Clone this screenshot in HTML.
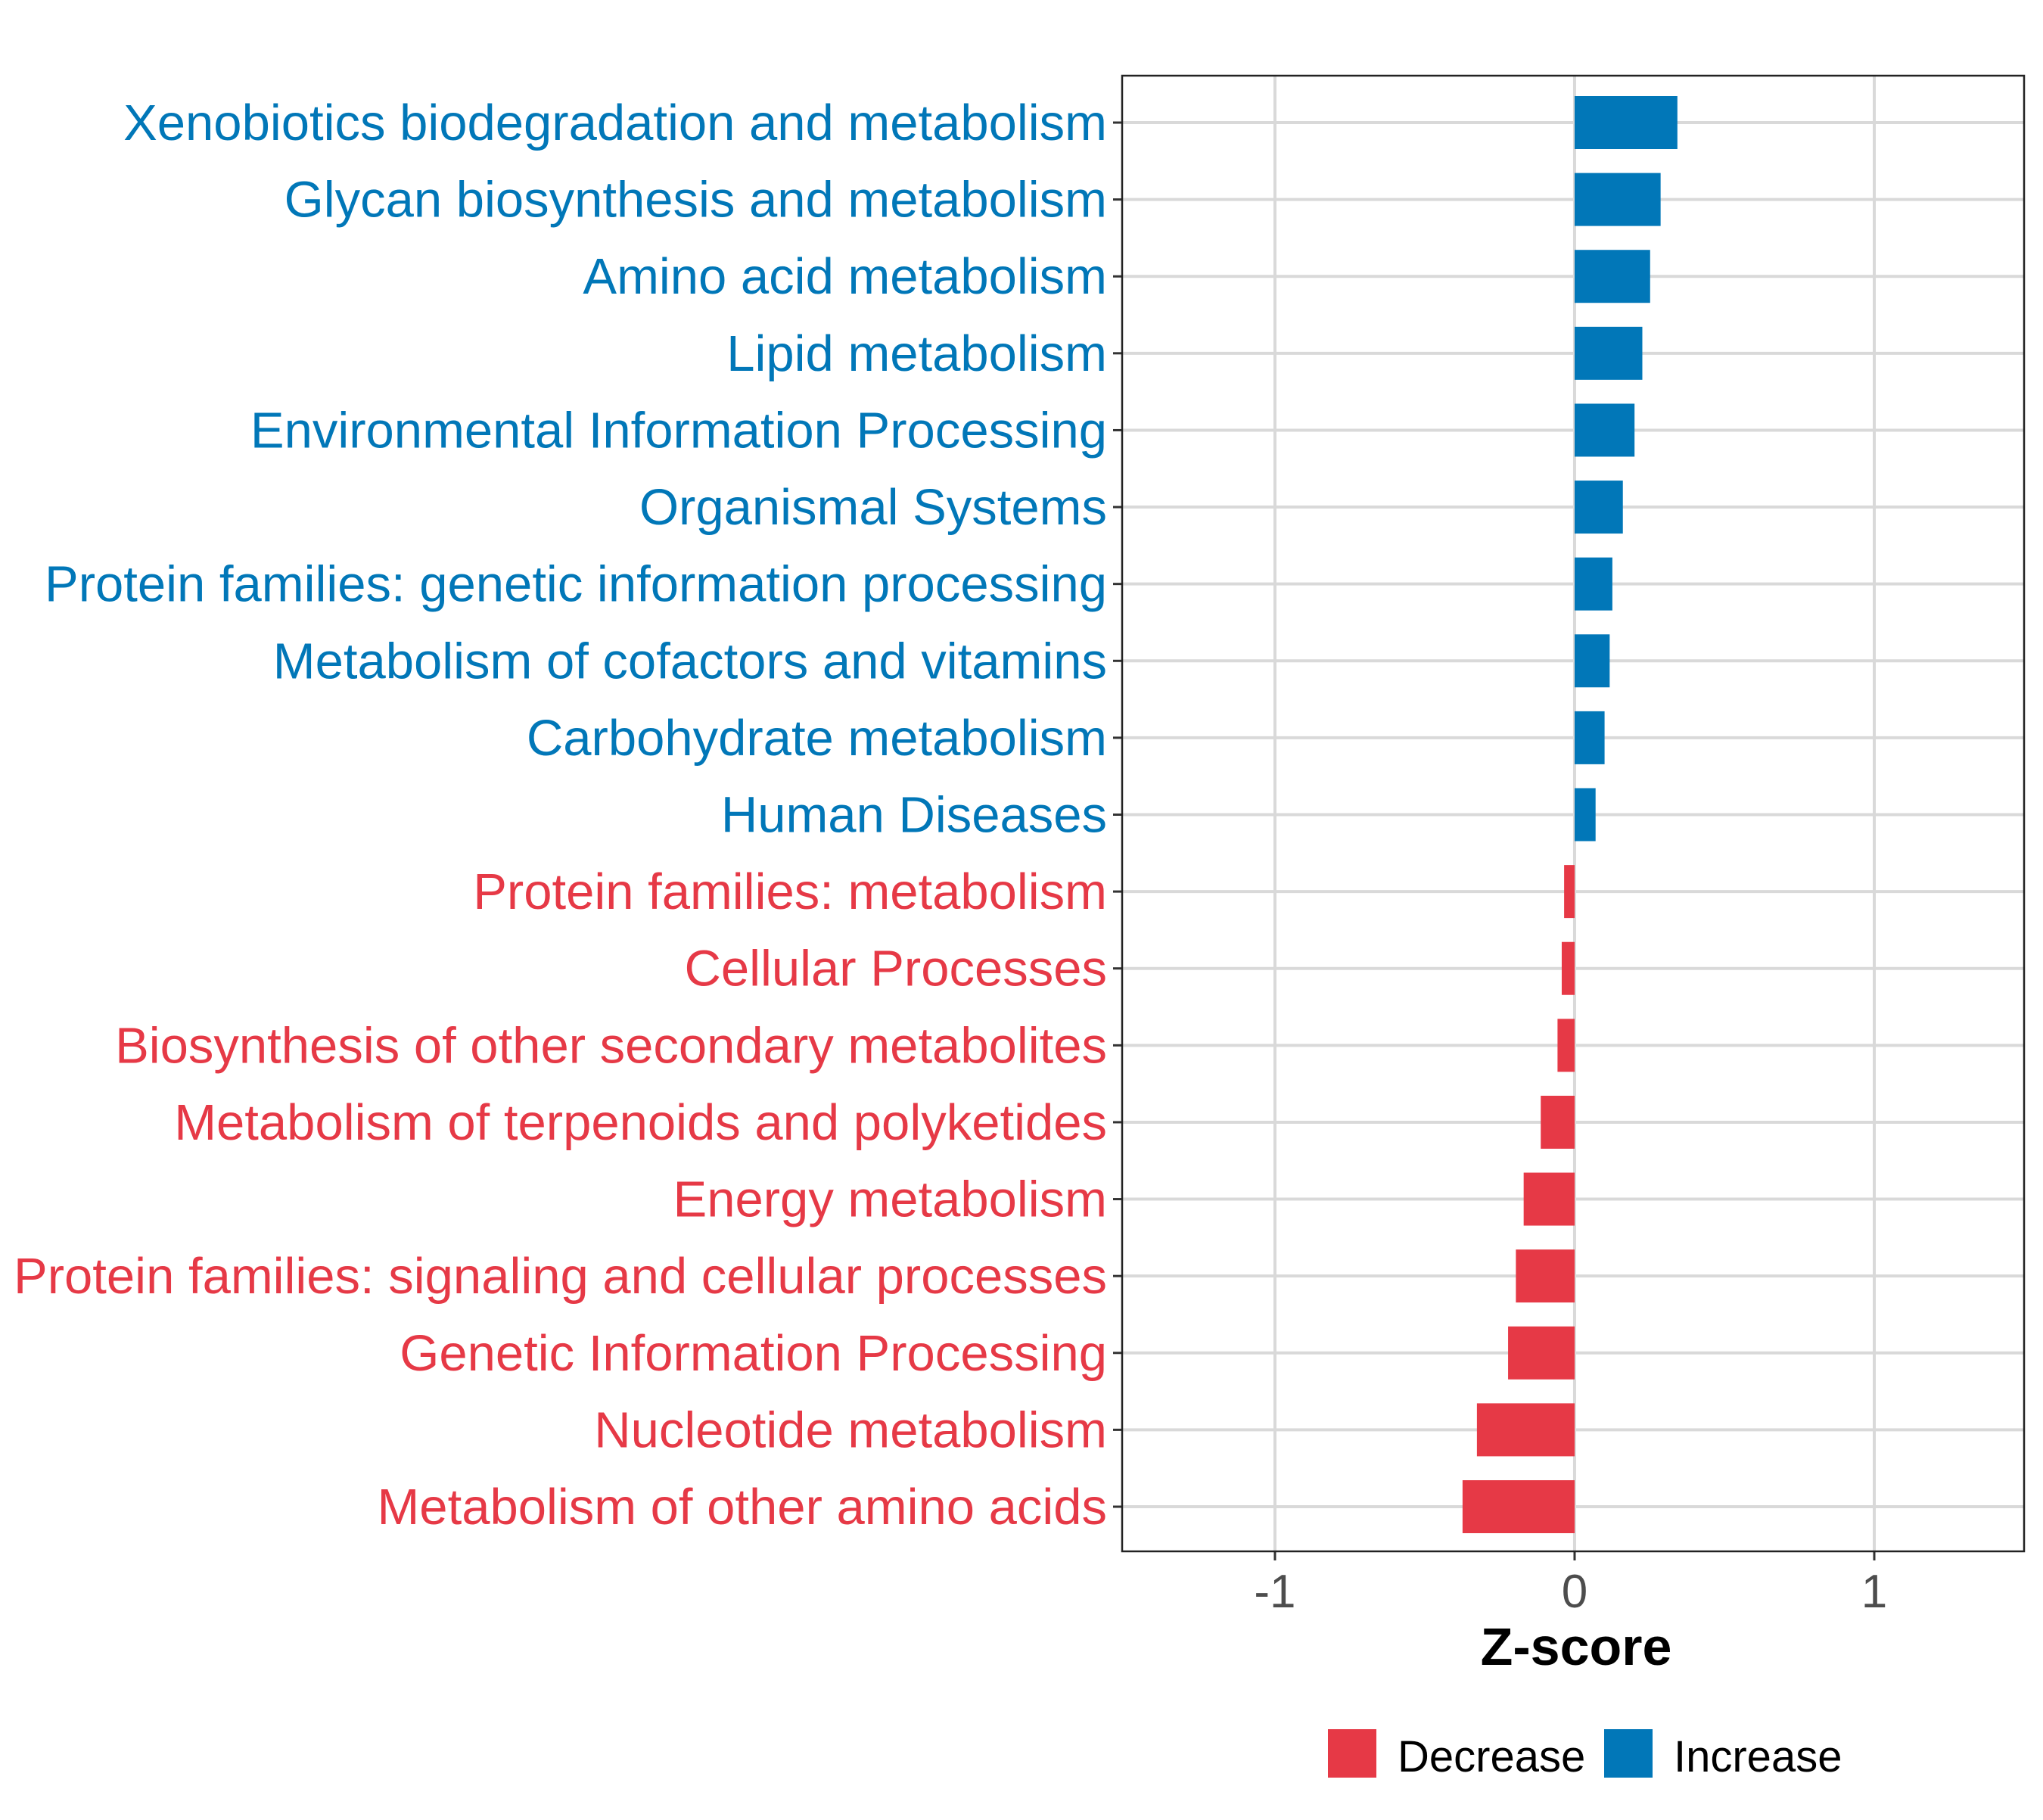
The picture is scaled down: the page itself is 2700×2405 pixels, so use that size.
<!DOCTYPE html>
<html><head><meta charset="utf-8"><style>
body{margin:0;background:#fff}
svg text{font-family:"Liberation Sans",sans-serif}
</style></head><body>
<svg id="chart" width="2700" height="2400" xmlns="http://www.w3.org/2000/svg">
<rect width="2700" height="2400" fill="#fff"/>
<g id="grid"></g>
<g id="bars"></g>
<g id="ylabels"></g>
<g id="xticks"></g>
<rect x="1483" y="100" width="1192" height="1950" fill="none" stroke="#222" stroke-width="2.5"/>
<text x="2083" y="2200" font-size="70" font-weight="bold" text-anchor="middle" fill="#000">Z-score</text>
<g>
<rect x="1755" y="2285" width="64" height="64" fill="#E63946"/>
<text x="1847" y="2341" font-size="58" fill="#000">Decrease</text>
<rect x="2120" y="2285" width="64" height="64" fill="#0177B8"/>
<text x="2212" y="2341" font-size="58" fill="#000">Increase</text>
</g>
</svg>
<script>
const categories=["Xenobiotics biodegradation and metabolism","Glycan biosynthesis and metabolism","Amino acid metabolism","Lipid metabolism","Environmental Information Processing","Organismal Systems","Protein families: genetic information processing","Metabolism of cofactors and vitamins","Carbohydrate metabolism","Human Diseases","Protein families: metabolism","Cellular Processes","Biosynthesis of other secondary metabolites","Metabolism of terpenoids and polyketides","Energy metabolism","Protein families: signaling and cellular processes","Genetic Information Processing","Nucleotide metabolism","Metabolism of other amino acids"];
const zscores=[0.343,0.287,0.252,0.226,0.2,0.161,0.126,0.117,0.1,0.07,-0.035,-0.043,-0.057,-0.113,-0.17,-0.196,-0.222,-0.326,-0.374];
const xTicks=[-1,0,1];
const xTickLabels=["-1","0","1"];
const NS="http://www.w3.org/2000/svg";
const L=1483,R=2675,T=100,B=2050;
const xMin=-1.51,xMax=1.50;
function xs(v){return L+(v-xMin)/(xMax-xMin)*(R-L);}
const y0=162,step=(1991-162)/(categories.length-1);
function ys(i){return y0+i*step;}
function mk(tag,attrs,parent){const e=document.createElementNS(NS,tag);for(const k in attrs)e.setAttribute(k,attrs[k]);parent.appendChild(e);return e;}
const grid=document.getElementById('grid'),bars=document.getElementById('bars'),yl=document.getElementById('ylabels'),xt=document.getElementById('xticks');
xTicks.forEach((t,i)=>{
 const g=mk('line',{x1:xs(t),x2:xs(t),y1:T,y2:B,stroke:'#d9d9d9','stroke-width':4},grid);
 
 
 const tk=mk('line',{x1:xs(t),x2:xs(t),y1:B,y2:B+12,stroke:'#333','stroke-width':3},xt);
 
 
 const tl=mk('text',{x:xs(t),y:2124,'font-size':62,'text-anchor':'middle',fill:'#4d4d4d'},xt);
 tl.textContent=xTickLabels[i];
 
 
});
categories.forEach((c,i)=>{
 const y=ys(i);
 const g=mk('line',{x1:L,x2:R,y1:y,y2:y,stroke:'#d9d9d9','stroke-width':4},grid);
 
 
 const v=zscores[i];
 const col=v>=0?'#0177B8':'#E63946';
 const x1=Math.min(xs(0),xs(v)),w=Math.abs(xs(v)-xs(0));
 const b=mk('rect',{x:x1,y:y-35,width:w,height:70,fill:col},bars);
 
 
 const tk=mk('line',{x1:L-12,x2:L,y1:y,y2:y,stroke:'#333','stroke-width':3},yl);
 
 
 const t=mk('text',{x:1463,y:y+23,'font-size':67,'text-anchor':'end',fill:col},yl);
 t.textContent=c;
 
 
});
</script>
</body></html>
